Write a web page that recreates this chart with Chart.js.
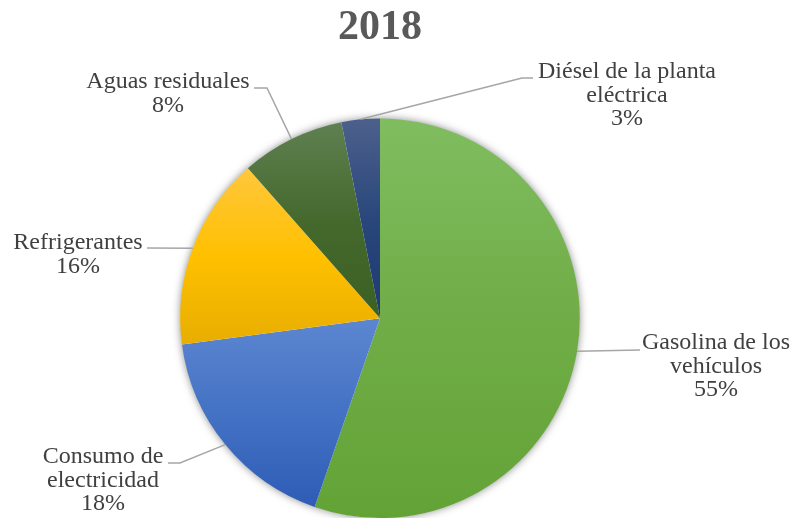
<!DOCTYPE html>
<html>
<head>
<meta charset="utf-8">
<script src="https://cdn.jsdelivr.net/npm/chart.js@4.4.0/dist/chart.umd.min.js"></script>
<style>
  html, body { margin: 0; padding: 0; background: #fff; }
  #wrap { width: 795px; height: 518px; }
</style>
</head>
<body>
<div id="wrap"><canvas id="pieChart"></canvas></div>
<script>
const chartTitle = '2018';
const categories = [
  ['Gasolina de los', 'vehículos'],
  ['Consumo de', 'electricidad'],
  ['Refrigerantes'],
  ['Aguas residuales'],
  ['Diésel de la planta', 'eléctrica']
];
const values = [55.3, 17.6, 15.6, 8.4, 3.1];

// top / middle / bottom of each slice's gradient
const sliceColors = [
  ['#80bd60', '#70ad47', '#63a336'],
  ['#5c86d0', '#4472c4', '#2e5cb6'],
  ['#ffc73d', '#ffc000', '#e8ae00'],
  ['#5f8051', '#45692d', '#3b6023'],
  ['#4d608c', '#2a477c', '#1d3a72']
];

// label centre x, first line y, and leader bend points (from slice edge outward)
const labelLayout = [
  { x: 716, y: 343, line: [[640, 350]] },
  { x: 103, y: 457, line: [[180, 463], [168, 463]] },
  { x: 78, y: 243, line: [[147, 248]] },
  { x: 168, y: 82, line: [[267, 88], [254, 88]] },
  { x: 627, y: 72, line: [[522, 78], [533, 78]] }
];

const serif = '"Liberation Serif", "Times New Roman", serif';
const total = values.reduce((a, b) => a + b, 0);

function sliceFill(c) {
  const cols = sliceColors[c.dataIndex];
  const area = c.chart.chartArea;
  if (!area) return cols[1];
  const cx = (area.left + area.right) / 2;
  const cy = (area.top + area.bottom) / 2;
  const r = Math.min(area.width, area.height) / 2;
  let before = 0;
  for (let k = 0; k < c.dataIndex; k++) before += values[k];
  const a0 = -Math.PI / 2 + before / total * 2 * Math.PI;
  const a1 = a0 + values[c.dataIndex] / total * 2 * Math.PI;
  const ys = [cy, cy + r * Math.sin(a0), cy + r * Math.sin(a1)];
  const inRange = a => { let t = a; while (t < a0) t += 2 * Math.PI; return t <= a1 + 1e-9; };
  if (inRange(Math.PI / 2)) ys.push(cy + r);
  if (inRange(-Math.PI / 2)) ys.push(cy - r);
  const g = c.chart.ctx.createLinearGradient(0, Math.min(...ys), 0, Math.max(...ys));
  g.addColorStop(0, cols[0]);
  g.addColorStop(0.5, cols[1]);
  g.addColorStop(1, cols[2]);
  return g;
}

const pieDecor = {
  id: 'pieDecor',
  beforeDatasetsDraw(chart) {
    const arc = chart.getDatasetMeta(0).data[0];
    if (!arc) return;
    const ctx = chart.ctx;
    // soft shadow under the whole pie
    ctx.save();
    ctx.shadowColor = 'rgba(0,0,0,0.5)';
    ctx.shadowBlur = 9;
    ctx.fillStyle = '#fff';
    ctx.beginPath();
    ctx.arc(arc.x, arc.y, arc.outerRadius - 0.5, 0, Math.PI * 2);
    ctx.fill();
    ctx.restore();
  },
  afterDatasetsDraw(chart) {
    const ctx = chart.ctx;
    const arcs = chart.getDatasetMeta(0).data;
    ctx.save();
    arcs.forEach((el, i) => {
      const mid = (el.startAngle + el.endAngle) / 2;
      const sx = el.x + el.outerRadius * Math.cos(mid);
      const sy = el.y + el.outerRadius * Math.sin(mid);
      const lay = labelLayout[i];
      ctx.strokeStyle = '#a6a6a6';
      ctx.lineWidth = 1.5;
      ctx.beginPath();
      ctx.moveTo(sx, sy);
      lay.line.forEach(p => ctx.lineTo(p[0], p[1]));
      ctx.stroke();

      const lines = categories[i].concat([Math.round(values[i] / total * 100) + '%']);
      ctx.fillStyle = '#404040';
      ctx.font = 'normal 24px ' + serif;
      ctx.textAlign = 'center';
      ctx.textBaseline = 'middle';
      lines.forEach((t, k) => ctx.fillText(t, lay.x, lay.y + k * 23.5));
    });
    ctx.restore();
  }
};

const chart = new Chart(document.getElementById('pieChart'), {
  type: 'pie',
  data: {
    labels: categories.map(c => c.join(' ')),
    datasets: [{
      data: values,
      backgroundColor: sliceFill,
      borderWidth: 0
    }]
  },
  options: {
    responsive: true,
    maintainAspectRatio: false,
    animation: false,
    layout: { padding: { left: 0, right: 35, top: 0, bottom: 0 } },
    plugins: {
      legend: { display: false },
      tooltip: { enabled: false },
      title: {
        display: true,
        text: chartTitle,
        color: '#595959',
        font: { family: serif, size: 42, weight: 'bold', lineHeight: 1.2 },
        padding: { top: 3, bottom: 65 }
      }
    }
  },
  plugins: [pieDecor]
});

// redraw once the serif face is surely available
if (document.fonts) {
  document.fonts.load('24px "Liberation Serif"').then(() => chart.draw());
}
</script>
</body>
</html>
